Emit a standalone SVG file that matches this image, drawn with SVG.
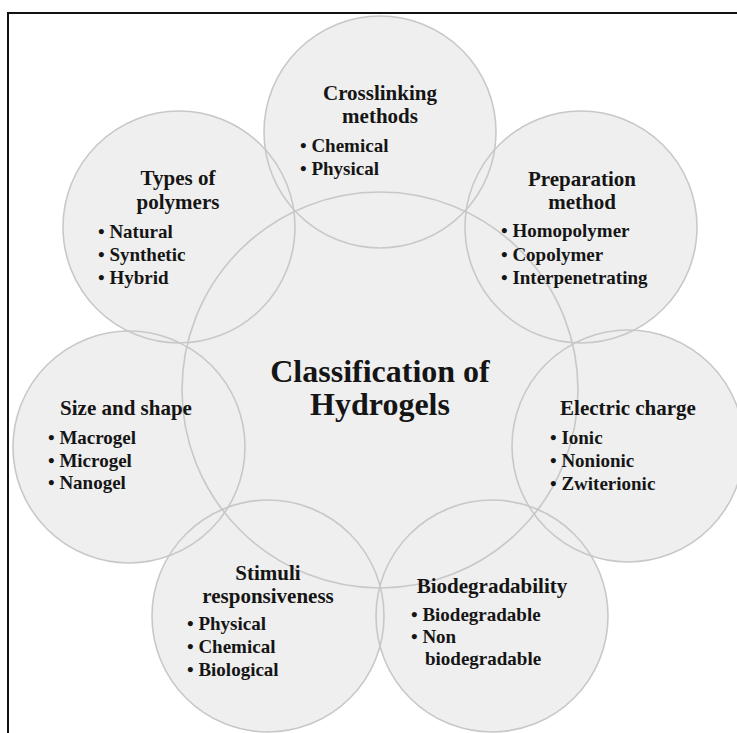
<svg xmlns="http://www.w3.org/2000/svg" width="737" height="733" viewBox="0 0 737 733">
<style>
.fill{fill:#efefef;stroke:none}
.ring{fill:none;stroke:#c8c8c8;stroke-width:1.6}
text{font-family:"Liberation Serif","Times New Roman",serif;font-weight:bold;fill:#151515}
.t{font-size:21px;text-anchor:middle}
.b{font-size:19px}
.main{font-size:32px;text-anchor:middle}
</style>
<rect width="737" height="733" fill="#ffffff"/>
<path d="M8,733 V13 H737" fill="none" stroke="#111" stroke-width="2"/>
<g id="fills">
<circle class="fill" cx="380" cy="390" r="198"/>
<circle class="fill" cx="380" cy="132" r="116"/>
<circle class="fill" cx="179" cy="227" r="116"/>
<circle class="fill" cx="581" cy="227" r="116"/>
<circle class="fill" cx="129" cy="447" r="116"/>
<circle class="fill" cx="628" cy="446" r="116"/>
<circle class="fill" cx="268" cy="616" r="116"/>
<circle class="fill" cx="492" cy="616" r="116"/>
</g>
<g id="connectors"></g>
<g id="center">
<circle class="ring" cx="380" cy="390" r="198"/>
<text class="main" x="380" y="382">Classification of</text>
<text class="main" x="380" y="415">Hydrogels</text>
</g>
<g id="crosslinking">
<circle class="ring" cx="380" cy="132" r="116"/>
<text class="t" x="380" y="100">Crosslinking</text>
<text class="t" x="380" y="123">methods</text>
<text class="b" x="300" y="152">• Chemical</text>
<text class="b" x="300" y="175">• Physical</text>
</g>
<g id="polymers">
<circle class="ring" cx="179" cy="227" r="116"/>
<text class="t" x="178" y="185">Types of</text>
<text class="t" x="178" y="209">polymers</text>
<text class="b" x="98" y="238">• Natural</text>
<text class="b" x="98" y="261">• Synthetic</text>
<text class="b" x="98" y="284">• Hybrid</text>
</g>
<g id="preparation">
<circle class="ring" cx="581" cy="227" r="116"/>
<text class="t" x="582" y="186">Preparation</text>
<text class="t" x="582" y="209">method</text>
<text class="b" x="501" y="237">• Homopolymer</text>
<text class="b" x="501" y="261">• Copolymer</text>
<text class="b" x="501" y="284">• Interpenetrating</text>
</g>
<g id="size">
<circle class="ring" cx="129" cy="447" r="116"/>
<text class="t" x="126" y="415">Size and shape</text>
<text class="b" x="48" y="444">• Macrogel</text>
<text class="b" x="48" y="467">• Microgel</text>
<text class="b" x="48" y="489">• Nanogel</text>
</g>
<g id="charge">
<circle class="ring" cx="628" cy="446" r="116"/>
<text class="t" x="628" y="415">Electric charge</text>
<text class="b" x="550" y="444">• Ionic</text>
<text class="b" x="550" y="467">• Nonionic</text>
<text class="b" x="550" y="490">• Zwiterionic</text>
</g>
<g id="stimuli">
<circle class="ring" cx="268" cy="616" r="116"/>
<text class="t" x="268" y="580">Stimuli</text>
<text class="t" x="268" y="603">responsiveness</text>
<text class="b" x="187" y="630">• Physical</text>
<text class="b" x="187" y="653">• Chemical</text>
<text class="b" x="187" y="676">• Biological</text>
</g>
<g id="biodegradability">
<circle class="ring" cx="492" cy="616" r="116"/>
<text class="t" x="492" y="593">Biodegradability</text>
<text class="b" x="411" y="621">• Biodegradable</text>
<text class="b" x="411" y="643">• Non</text>
<text class="b" x="425" y="665">biodegradable</text>
</g>
</svg>
